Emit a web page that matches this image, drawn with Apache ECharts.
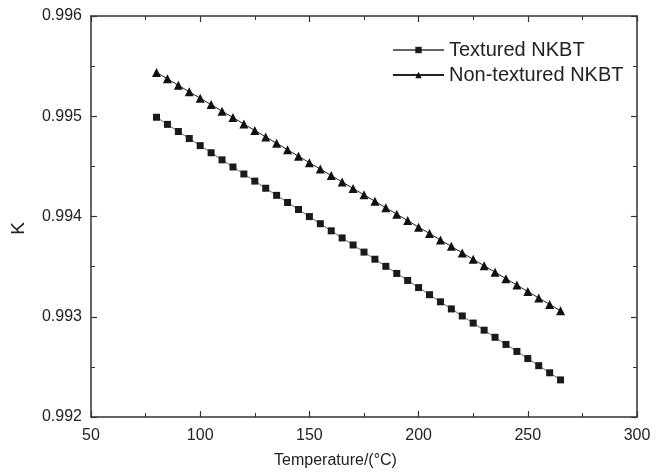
<!DOCTYPE html>
<html>
<head>
<meta charset="utf-8">
<script src="https://cdn.jsdelivr.net/npm/echarts@6/dist/echarts.min.js"></script>
<style>html,body{margin:0;padding:0;background:#fff}#c{width:667px;height:474px}</style>
</head>
<body>
<div id="c"></div>
<script>
var temperatures = [80,85,90,95,100,105,110,115,120,125,130,135,140,145,150,155,160,165,170,175,180,185,190,195,200,205,210,215,220,225,230,235,240,245,250,255,260,265];
var texturedK = [0.994990,0.994919,0.994848,0.994778,0.994707,0.994636,0.994565,0.994494,0.994424,0.994353,0.994282,0.994211,0.994140,0.994070,0.993999,0.993928,0.993857,0.993786,0.993716,0.993645,0.993574,0.993503,0.993432,0.993362,0.993291,0.993220,0.993149,0.993078,0.993008,0.992937,0.992866,0.992795,0.992724,0.992654,0.992583,0.992512,0.992441,0.992370];
var nonTexturedK = [0.995437,0.995373,0.995308,0.995244,0.995180,0.995116,0.995051,0.994987,0.994923,0.994859,0.994794,0.994730,0.994666,0.994601,0.994537,0.994473,0.994409,0.994344,0.994280,0.994216,0.994152,0.994087,0.994023,0.993959,0.993894,0.993830,0.993766,0.993702,0.993637,0.993573,0.993509,0.993445,0.993380,0.993316,0.993252,0.993187,0.993123,0.993059];
var seriesNames = ['Textured NKBT', 'Non-textured NKBT'];
var xTitle = 'Temperature/(\u00B0C)';
var yTitle = 'K';

function pairs(xs, ys){ return xs.map(function(x,i){ return [x, ys[i]]; }); }

var FONT = 'Liberation Sans, Arial, sans-serif';
var AX = '#333';
var chart = echarts.init(document.getElementById('c'), null, {renderer:'canvas'});
var axisLineS = {show:true, lineStyle:{color:AX, width:1.5}};
var tickS = {show:true, inside:true, length:6, lineStyle:{color:AX, width:1.2}};
var minorS = {show:true, splitNumber:2, length:4, lineStyle:{color:AX, width:1}};
chart.setOption({
  animation:false,
  backgroundColor:'#fff',
  grid:{left:91, right:30, top:16, bottom:55},
  legend:{
    orient:'vertical', left:392, top:40, padding:0, itemWidth:51, itemHeight:8, itemGap:5,
    textStyle:{fontFamily:FONT, fontSize:20, color:'#222'},
    data:seriesNames
  },
  xAxis:[{
    type:'value', min:50, max:300, interval:50, position:'bottom',
    axisLine:axisLineS, axisTick:tickS, minorTick:minorS, splitLine:{show:false},
    axisLabel:{fontFamily:FONT, fontSize:16, color:'#222', margin:11},
    name:xTitle, nameLocation:'middle', nameGap:36,
    nameTextStyle:{fontFamily:FONT, fontSize:16, color:'#222', padding:[0,57,0,0]}
  },{
    type:'value', min:50, max:300, interval:50, position:'top',
    axisLine:axisLineS, axisTick:tickS, minorTick:minorS, splitLine:{show:false},
    axisLabel:{show:false}
  }],
  yAxis:[{
    type:'value', min:0.992, max:0.996, interval:0.001, position:'left',
    axisLine:axisLineS, axisTick:tickS, minorTick:minorS, splitLine:{show:false},
    axisLabel:{fontFamily:FONT, fontSize:16, color:'#222', margin:9,
      formatter:function(v){ return v.toFixed(3); }},
    name:yTitle, nameLocation:'middle', nameGap:63, nameRotate:90,
    nameTextStyle:{fontFamily:FONT, fontSize:19, color:'#222', padding:[0,24,0,0], align:'center'}
  },{
    type:'value', min:0.992, max:0.996, interval:0.001, position:'right',
    axisLine:axisLineS, axisTick:tickS, minorTick:minorS, splitLine:{show:false},
    axisLabel:{show:false}
  }],
  series:[{
    name:seriesNames[0], type:'line', xAxisIndex:0, yAxisIndex:0,
    data:pairs(temperatures, texturedK),
    symbol:'rect', symbolSize:7,
    itemStyle:{color:'#1a1a1a'},
    lineStyle:{color:'#666', width:1}
  },{
    name:seriesNames[1], type:'line', xAxisIndex:0, yAxisIndex:0,
    data:pairs(temperatures, nonTexturedK),
    symbol:'triangle', symbolSize:9,
    itemStyle:{color:'#111'},
    lineStyle:{color:'#222', width:1}
  }]
});
</script>
</body>
</html>
